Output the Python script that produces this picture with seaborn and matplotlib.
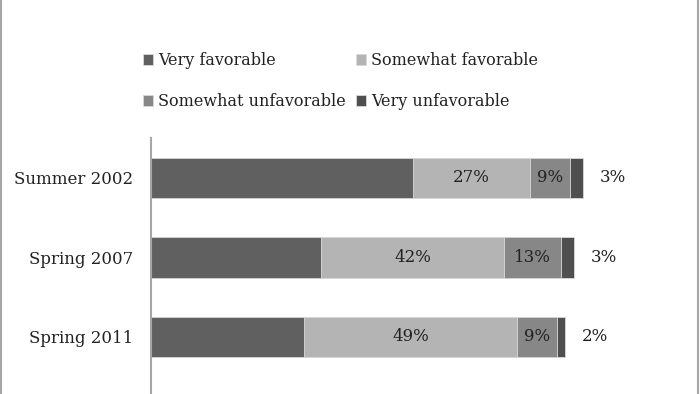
import pandas as pd
import matplotlib.pyplot as plt
import seaborn as sns
from matplotlib.lines import Line2D

# data (percent)
periods = ["Summer 2002", "Spring 2007", "Spring 2011"]
very_fav = [60, 39, 35]
somewhat_fav = [27, 42, 49]
somewhat_unfav = [9, 13, 9]
very_unfav = [3, 3, 2]

series = ["Very favorable", "Somewhat favorable", "Somewhat unfavorable", "Very unfavorable"]
colors = ["#606060", "#b4b4b4", "#878787", "#4f4f4f"]

df = pd.DataFrame({
    "period": periods,
    "Very favorable": very_fav,
    "Somewhat favorable": somewhat_fav,
    "Somewhat unfavorable": somewhat_unfav,
    "Very unfavorable": very_unfav,
})
cum = df[series].cumsum(axis=1)

sns.set_theme(style="white")
plt.rcParams['font.family'] = ['DejaVu Serif']
txt_color = "#222222"

fig = plt.figure(figsize=(7, 3.94), dpi=100)
ax = fig.add_axes([0.2157, 0.0, 0.623, 0.6497])

# stacked bars: draw cumulative totals from the outside in
for name, color in reversed(list(zip(series, colors))):
    sns.barplot(x=cum[name], y=df["period"], color=color, saturation=1,
                width=0.51, ax=ax, label=name,
                edgecolor="#d9d9d9", linewidth=0.6)

# segment labels
for i in range(len(periods)):
    left = very_fav[i]
    ax.text(left + somewhat_fav[i] / 2, i, f"{somewhat_fav[i]}%",
            ha="center", va="center", fontsize=12, color=txt_color)
    left += somewhat_fav[i]
    ax.text(left + somewhat_unfav[i] / 2, i, f"{somewhat_unfav[i]}%",
            ha="center", va="center", fontsize=12, color=txt_color)
    left += somewhat_unfav[i]
    ax.text(left + very_unfav[i] + 6.8, i, f"{very_unfav[i]}%",
            ha="center", va="center", fontsize=12, color=txt_color)

ax.set_xlim(0, 100)
ax.set_ylim(2.717, -0.5)
ax.set_xticks([])
ax.set_xlabel("")
ax.set_ylabel("")
ax.tick_params(axis="y", length=0, pad=13, labelsize=12, labelcolor=txt_color)
for s in ["top", "right", "bottom"]:
    ax.spines[s].set_visible(False)
ax.spines["left"].set_color("#a6a6a6")
ax.spines["left"].set_linewidth(1.5)

# legend, row-major order like the original
handles, labels = ax.get_legend_handles_labels()
if ax.get_legend() is not None:
    ax.get_legend().remove()
lookup = dict(zip(labels, handles))
order = ["Very favorable", "Somewhat unfavorable", "Somewhat favorable", "Very unfavorable"]
fig.legend([lookup[o] for o in order], order, loc="upper left",
           bbox_to_anchor=(143 / 700, 1 - 52 / 394), ncol=2, frameon=False,
           fontsize=11.5, labelcolor=txt_color, borderpad=0, borderaxespad=0,
           handlelength=0.63, handleheight=0.63, handletextpad=0.3,
           columnspacing=0.65, labelspacing=1.5)

# thin frame lines at the image edges
fig.add_artist(Line2D([0.0015, 0.0015], [0, 1], transform=fig.transFigure,
                      color="#a6a6a6", lw=1.5))
fig.add_artist(Line2D([0.997, 0.997], [0, 1], transform=fig.transFigure,
                      color="#a6a6a6", lw=1.5))

fig.savefig("out.png", dpi=100)
